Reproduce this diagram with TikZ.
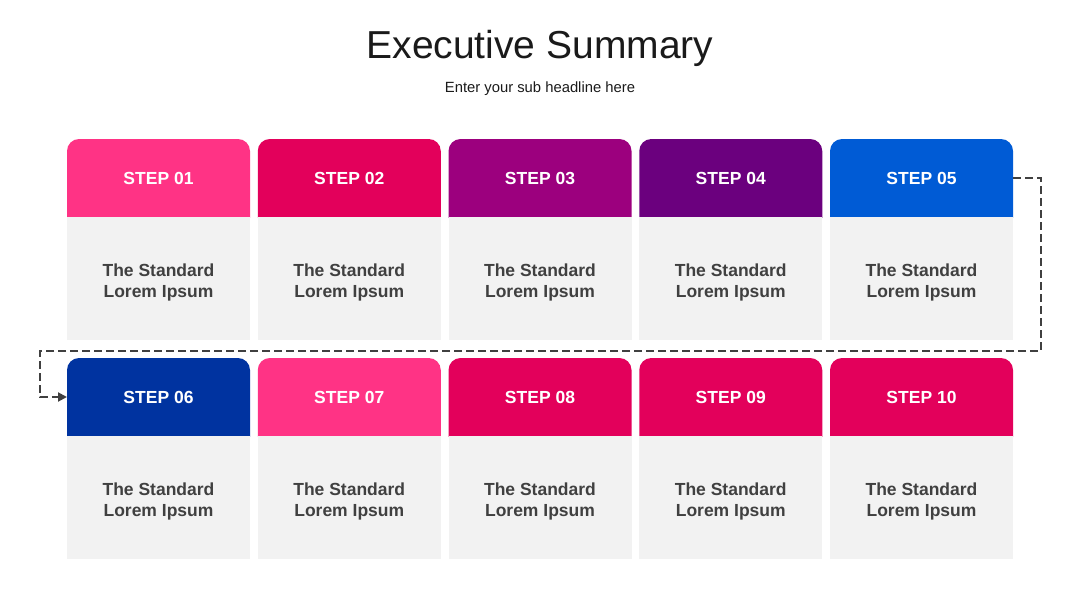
\documentclass[tikz,border=0pt]{standalone}
\usepackage{fontspec}
\setmainfont{Liberation Sans}
\usepackage{tikz}
\usetikzlibrary{arrows.meta, positioning, backgrounds}

\definecolor{pinkA}{HTML}{FF3385}
\definecolor{crimson}{HTML}{E3005B}
\definecolor{magentaA}{HTML}{9C007E}
\definecolor{purpleA}{HTML}{6B007E}
\definecolor{blueA}{HTML}{005BD5}
\definecolor{navyA}{HTML}{0033A0}
\definecolor{bodygray}{HTML}{F2F2F2}
\definecolor{textgray}{HTML}{404040}
\definecolor{titlegray}{HTML}{1A1A1A}

\begin{document}
\begin{tikzpicture}[x=1pt, y=1pt,
    head/.style={rectangle, minimum width=183pt, minimum height=78pt, inner sep=0pt, outer sep=0pt, text=white, text height=13pt, text depth=0pt, font=\bfseries\fontsize{17.5}{20}\selectfont},
    bodybox/.style={rectangle, fill=bodygray, minimum width=183pt, minimum height=123pt, inner sep=0pt, outer sep=0pt, align=center, text=textgray, text height=37pt, text depth=0pt, font=\bfseries\fontsize{17.5}{21}\selectfont},
    flow/.style={draw=textgray, line width=2pt, dash pattern=on 8pt off 4pt, -{Triangle[length=9pt, width=9pt]}}]
    \useasboundingbox (0,0) rectangle (1080,-608);

    \node [text=titlegray, font=\fontsize{39}{47}\selectfont] (title) at (540,-48) {Executive Summary};
    \node [text=titlegray, font=\fontsize{14.8}{18}\selectfont] (sub) at (540,-89) {Enter your sub headline here};

    % first row
    \node [head, anchor=north west] (h1) at (67,-139) {STEP 01};
    \node [head, right=7.75pt of h1] (h2) {STEP 02};
    \node [head, right=7.75pt of h2] (h3) {STEP 03};
    \node [head, right=7.75pt of h3] (h4) {STEP 04};
    \node [head, right=7.75pt of h4] (h5) {STEP 05};
    \node [bodybox, below=0pt of h1] (b1) {The Standard\\Lorem Ipsum};
    \node [bodybox, below=0pt of h2] (b2) {The Standard\\Lorem Ipsum};
    \node [bodybox, below=0pt of h3] (b3) {The Standard\\Lorem Ipsum};
    \node [bodybox, below=0pt of h4] (b4) {The Standard\\Lorem Ipsum};
    \node [bodybox, below=0pt of h5] (b5) {The Standard\\Lorem Ipsum};

    % second row
    \node [head, below=18pt of b1] (h6) {STEP 06};
    \node [head, right=7.75pt of h6] (h7) {STEP 07};
    \node [head, right=7.75pt of h7] (h8) {STEP 08};
    \node [head, right=7.75pt of h8] (h9) {STEP 09};
    \node [head, right=7.75pt of h9] (h10) {STEP 10};
    \node [bodybox, below=0pt of h6] (b6) {The Standard\\Lorem Ipsum};
    \node [bodybox, below=0pt of h7] (b7) {The Standard\\Lorem Ipsum};
    \node [bodybox, below=0pt of h8] (b8) {The Standard\\Lorem Ipsum};
    \node [bodybox, below=0pt of h9] (b9) {The Standard\\Lorem Ipsum};
    \node [bodybox, below=0pt of h10] (b10) {The Standard\\Lorem Ipsum};

    % header fills with rounded top
    \begin{scope}[on background layer]
    \foreach \n/\c in {h1/pinkA, h2/crimson, h3/magentaA, h4/purpleA, h5/blueA,
                       h6/navyA, h7/pinkA, h8/crimson, h9/crimson, h10/crimson} {
        \begin{scope}
            \clip (\n.north west) rectangle (\n.south east);
            \fill [\c, rounded corners=12pt] (\n.north west) rectangle ([yshift=-20pt]\n.south east);
        \end{scope}
    }
    \end{scope}

    % connector row 1 -> row 2
    \coordinate (c1) at (1041,-351);
    \coordinate (c2) at (40,-351);
    \path [flow] (h5.east) -| (c1) -- (c2) |- (h6.west);
\end{tikzpicture}
\end{document}
